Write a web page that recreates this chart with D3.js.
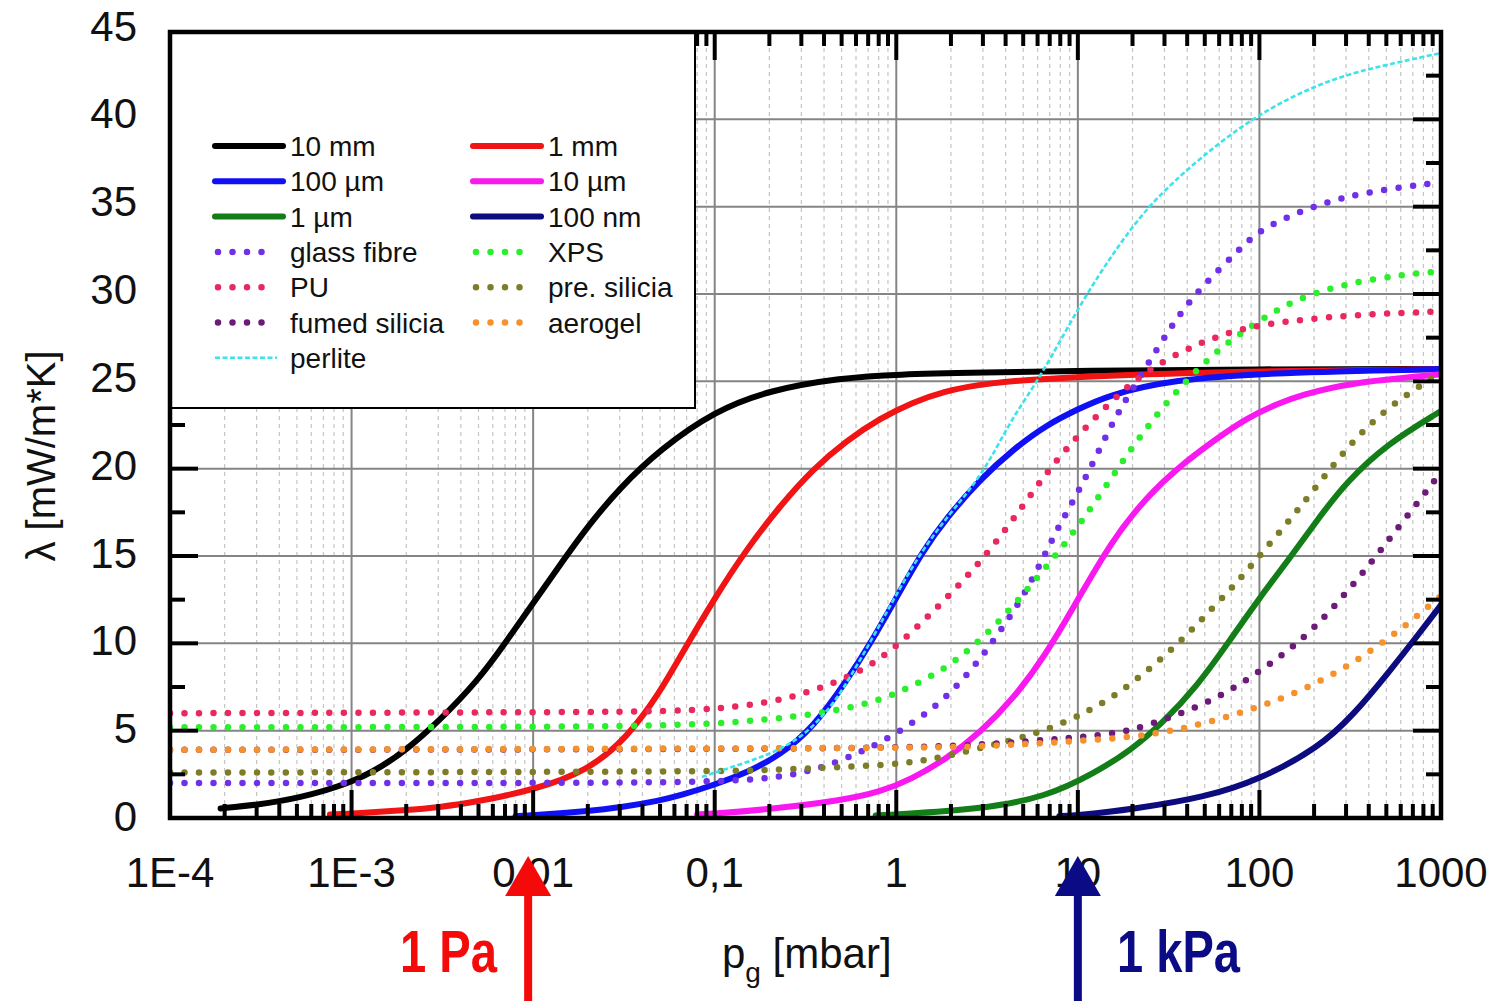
<!DOCTYPE html>
<html>
<head>
<meta charset="utf-8">
<title>Thermal conductivity vs gas pressure</title>
<style>
  body { margin: 0; background: #fff; }
  svg { display: block; font-family: "Liberation Sans", Arial, sans-serif; }
</style>
</head>
<body>
<svg width="1495" height="1001" id="chart"></svg>
<script src="https://d3js.org/d3.v7.min.js"></script>
<script>

// ---- data: [pressure in mbar, lambda in mW/m*K] ----
var xTicks = [1e-4, 1e-3, 0.01, 0.1, 1, 10, 100, 1000];
var xTickLabels = ["1E-4", "1E-3", "0,01", "0,1", "1", "10", "100", "1000"];
var yTicks = [0, 5, 10, 15, 20, 25, 30, 35, 40, 45];

var s10mm = [[1.9e-4,0.55],[3e-4,0.75],[5e-4,1.1],[1e-3,2.0],[1.5e-3,3.0],[2e-3,3.9],[3e-3,5.5],[5e-3,7.9],[7e-3,10.0],[0.01,12.3],[0.015,14.9],[0.02,16.7],[0.03,18.9],[0.05,21.1],[0.1,23.3],[0.2,24.5],[0.5,25.2],[1,25.4],[3,25.5],[10,25.6],[100,25.7],[1000,25.7]];
var s1mm = [[7.6e-4,0.2],[1e-3,0.25],[2e-3,0.45],[3e-3,0.6],[5e-3,0.95],[0.01,1.6],[0.02,2.7],[0.033,4.6],[0.05,7.2],[0.065,9.3],[0.1,12.6],[0.15,15.4],[0.23,17.9],[0.35,20.0],[0.53,21.6],[0.82,22.9],[1.23,23.8],[1.8,24.4],[3,24.9],[10,25.3],[100,25.6],[1000,25.7]];
var s100um = [[8e-3,0.1],[0.01,0.15],[0.02,0.4],[0.03,0.6],[0.05,1.0],[0.065,1.3],[0.1,1.9],[0.15,2.6],[0.23,3.6],[0.35,5.2],[0.53,7.8],[0.75,10.3],[1,12.6],[1.4,15.3],[1.9,17.2],[2.9,19.4],[4.4,21.1],[6.7,22.5],[10,23.4],[14.6,24.2],[33,25.1],[120,25.5],[1000,25.7]];
var s10um = [[0.08,0.2],[0.1,0.25],[0.2,0.5],[0.5,1.0],[0.82,1.5],[1.2,2.2],[1.9,3.4],[2.9,4.9],[4.4,6.8],[6.7,9.4],[9.5,12.1],[15.4,15.9],[24,18.4],[36,20.1],[56,21.6],[85,22.9],[131,23.8],[170,24.2],[300,24.9],[1000,25.4]];
var s1um = [[0.77,0.15],[1,0.2],[2.9,0.5],[6.7,1.2],[12.5,2.6],[19.7,3.9],[29,5.4],[45,7.5],[68,10.1],[100,12.6],[150,15.0],[220,17.4],[300,19.2],[500,21.4],[1000,23.3]];
var s100nm = [[7.9,0.1],[10,0.15],[20,0.5],[51,1.2],[100,2.2],[211,4.0],[330,5.9],[530,8.5],[750,10.5],[1000,12.2]];
var sGlassFibre = [[1e-4,2.0],[0.01,2.0],[0.1,2.05],[0.23,2.3],[0.4,2.9],[0.58,3.6],[0.82,4.3],[1.3,5.6],[1.9,6.9],[2.8,8.9],[3.4,10.1],[5.3,13.0],[7.6,16.5],[10.3,18.8],[15.4,22.6],[19,24.2],[27.5,26.9],[36.5,28.9],[51,30.7],[77,32.5],[100,33.7],[200,35.1],[410,35.9],[1000,36.4]];
var sXPS = [[1e-4,5.2],[0.01,5.2],[0.065,5.3],[0.14,5.5],[0.28,5.8],[0.5,6.2],[0.82,6.75],[1.2,7.5],[1.9,8.6],[2.7,9.9],[3.9,11.5],[6.4,14.1],[10.3,16.8],[17.5,20.4],[27,23.1],[38.5,24.9],[56,26.6],[80,27.8],[120,29.0],[170,29.8],[300,30.6],[600,31.1],[1000,31.3]];
var sPU = [[1e-4,6.0],[0.01,6.05],[0.065,6.1],[0.11,6.3],[0.2,6.6],[0.33,7.2],[0.5,7.9],[0.82,9.0],[1.5,11.5],[2.9,14.6],[4.4,17.1],[5.5,18.5],[7,20.0],[10,21.9],[15,23.8],[23,25.5],[37,26.7],[53,27.4],[74,27.9],[108,28.3],[300,28.8],[1000,29.0]];
var sPreSilicia = [[1e-4,2.6],[0.1,2.65],[0.195,2.75],[0.87,3.0],[1.5,3.3],[2.9,4.0],[6.2,4.85],[10.9,6.0],[17.5,7.2],[35.5,9.9],[56,12.1],[77,13.6],[98,14.9],[163,17.6],[300,21.2],[500,23.5],[1000,25.5]];
var sFumedSilicia = [[1e-4,3.9],[1,3.95],[3,4.2],[10,4.6],[17.5,4.9],[24,5.3],[40,6.1],[66,7.15],[107,8.6],[163,10.0],[245,11.8],[390,14.3],[600,16.8],[1000,19.8]];
var sAerogel = [[1e-4,3.9],[0.87,4.0],[2.6,4.06],[6.7,4.3],[20.7,4.6],[42,5.2],[85,6.1],[165,7.2],[324,8.8],[513,10.3],[693,11.3],[918,12.4],[1000,12.7]];
var sPerlite = [[0.085,2.35],[0.1,2.6],[0.2,3.6],[0.3,4.6],[0.4,5.9],[0.5,7.2],[0.75,10.4],[1,12.8],[1.4,15.4],[2,17.5],[2.55,18.8],[3.3,20.5],[4.4,23.0],[6.2,25.2],[10.4,29.5],[16,32.5],[25,35.2],[47,37.8],[100,40.4],[250,42.4],[600,43.3],[1000,43.8]];

var seriesNames = ["10 mm", "1 mm", "100 µm", "10 µm", "1 µm", "100 nm", "glass fibre", "XPS", "PU", "pre. silicia", "fumed silicia", "aerogel", "perlite"];
var seriesData = [s10mm, s1mm, s100um, s10um, s1um, s100nm, sGlassFibre, sXPS, sPU, sPreSilicia, sFumedSilicia, sAerogel, sPerlite];
var seriesColors = ["#000000", "#f01414", "#1010f5", "#fa18f0", "#137d17", "#0c0c7e", "#7030e8", "#2cef2c", "#e8285e", "#7d7d28", "#6c1c78", "#f5922e", "#3de3ea"];
var seriesStyle = ["solid", "solid", "solid", "solid", "solid", "solid", "dot", "dot", "dot", "dot", "dot", "dot", "dash"];

// ---- layout ----
var svg = d3.select("#chart");
var pLeft = 170, pRight = 1441, pTop = 32, pBottom = 818;

var x = d3.scaleLog().domain([1e-4, 1000]).range([pLeft, pRight]);
var y = d3.scaleLinear().domain([0, 45]).range([pBottom, pTop]);

svg.append("defs").append("clipPath").attr("id", "plotclip")
  .append("rect").attr("x", pLeft).attr("y", pTop).attr("width", pRight - pLeft).attr("height", pBottom - pTop);

// minor tick / grid positions
var xMinor = [];
xTicks.slice(0, -1).forEach(function(d) {
  for (var k = 2; k <= 9; k++) xMinor.push(d * k);
});
var yMinor = d3.range(2.5, 45, 5);

// grid
var grid = svg.append("g");
grid.selectAll(".gminor").data(xMinor).enter().append("line")
  .attr("x1", function(d) { return x(d); }).attr("x2", function(d) { return x(d); })
  .attr("y1", pTop).attr("y2", pBottom)
  .attr("stroke", "#c4c4c4").attr("stroke-width", 1.2).attr("stroke-dasharray", "4,4");
grid.selectAll(".gmajx").data(xTicks.slice(1, -1)).enter().append("line")
  .attr("x1", function(d) { return x(d); }).attr("x2", function(d) { return x(d); })
  .attr("y1", pTop).attr("y2", pBottom)
  .attr("stroke", "#858585").attr("stroke-width", 2);
grid.selectAll(".gmajy").data(yTicks.slice(1, -1)).enter().append("line")
  .attr("y1", function(d) { return y(d); }).attr("y2", function(d) { return y(d); })
  .attr("x1", pLeft).attr("x2", pRight)
  .attr("stroke", "#858585").attr("stroke-width", 2);

// curves
var line = d3.line()
  .x(function(d) { return x(d[0]); })
  .y(function(d) { return y(d[1]); })
  .curve(d3.curveBasis);

function styleLine(sel, style) {
  if (style == "solid") {
    sel.attr("stroke-width", 6).attr("stroke-linecap", "round");
  } else if (style == "dot") {
    sel.attr("stroke-width", 6.5).attr("stroke-linecap", "round").attr("stroke-dasharray", "0,14.5");
  } else {
    sel.attr("stroke-width", 2.6).attr("stroke-dasharray", "5,2.5");
  }
  return sel;
}

var curves = svg.append("g").attr("clip-path", "url(#plotclip)");
seriesData.forEach(function(data, i) {
  var p = curves.append("path")
    .datum(data)
    .attr("d", line)
    .attr("fill", "none")
    .attr("stroke", seriesColors[i]);
  styleLine(p, seriesStyle[i]);
});

// ticks (inward, on all four sides)
var ticks = svg.append("g").attr("stroke", "#000").attr("stroke-width", 4);
function xTickLines(vals, len) {
  ticks.selectAll(null).data(vals).enter().append("line")
    .attr("x1", function(d) { return x(d); }).attr("x2", function(d) { return x(d); })
    .attr("y1", pBottom).attr("y2", pBottom - len);
  ticks.selectAll(null).data(vals).enter().append("line")
    .attr("x1", function(d) { return x(d); }).attr("x2", function(d) { return x(d); })
    .attr("y1", pTop).attr("y2", pTop + len);
}
function yTickLines(vals, len) {
  ticks.selectAll(null).data(vals).enter().append("line")
    .attr("y1", function(d) { return y(d); }).attr("y2", function(d) { return y(d); })
    .attr("x1", pLeft).attr("x2", pLeft + len);
  ticks.selectAll(null).data(vals).enter().append("line")
    .attr("y1", function(d) { return y(d); }).attr("y2", function(d) { return y(d); })
    .attr("x1", pRight).attr("x2", pRight - len);
}
xTickLines(xTicks, 28);
xTickLines(xMinor, 14);
yTickLines(yTicks, 28);
yTickLines(yMinor, 15);

// legend box
var legend = svg.append("g");
legend.append("rect")
  .attr("x", pLeft).attr("y", pTop).attr("width", 525).attr("height", 376)
  .attr("fill", "#fff").attr("stroke", "#000").attr("stroke-width", 2);

var colX = [215, 473], rowY0 = 146, rowStep = 35.3;
seriesNames.forEach(function(name, i) {
  var cx = colX[i % 2], cy = rowY0 + Math.floor(i / 2) * rowStep;
  var x1 = cx, x2 = cx + 68;
  if (seriesStyle[i] == "dot") { x1 = cx + 3; x2 = cx + 61; }
  if (seriesStyle[i] == "dash") { x2 = cx + 62; }
  var l = legend.append("line")
    .attr("x1", x1).attr("x2", x2).attr("y1", cy).attr("y2", cy)
    .attr("stroke", seriesColors[i]);
  styleLine(l, seriesStyle[i]);
  legend.append("text")
    .attr("x", cx + 75).attr("y", cy + 10)
    .attr("font-size", 28).attr("fill", "#111")
    .text(name);
});

// frame
svg.append("rect")
  .attr("x", pLeft).attr("y", pTop).attr("width", pRight - pLeft).attr("height", pBottom - pTop)
  .attr("fill", "none").attr("stroke", "#000").attr("stroke-width", 4.5);

// tick labels
svg.append("g").selectAll("text").data(xTicks).enter().append("text")
  .attr("x", function(d) { return x(d); }).attr("y", 887)
  .attr("text-anchor", "middle").attr("font-size", 42).attr("fill", "#111")
  .text(function(d, i) { return xTickLabels[i]; });
svg.append("g").selectAll("text").data(yTicks).enter().append("text")
  .attr("x", 137).attr("y", function(d) { return y(d) + 13 - d / 10; })
  .attr("text-anchor", "end").attr("font-size", 42).attr("fill", "#111")
  .text(function(d) { return d; });

// axis titles
var xt = svg.append("text").attr("x", 722).attr("y", 968).attr("font-size", 42).attr("fill", "#111");
xt.append("tspan").text("p");
xt.append("tspan").attr("font-size", 28).attr("dy", 14).text("g");
xt.append("tspan").attr("dy", -14).text(" [mbar]");

svg.append("text")
  .attr("transform", "translate(55,456) rotate(-90)")
  .attr("text-anchor", "middle").attr("font-size", 40).attr("fill", "#111")
  .text("λ [mW/m*K]");

// pressure markers: 1 Pa = 0.01 mbar, 1 kPa = 10 mbar
function arrow(px, color) {
  var g = svg.append("g").attr("fill", color);
  g.append("rect").attr("x", px - 4).attr("y", 893).attr("width", 8).attr("height", 110);
  g.append("path").attr("d", "M" + (px - 23) + ",896 L" + px + ",856 L" + (px + 23) + ",896 Z");
}
arrow(x(0.01) - 5, "#f50a0a");
arrow(x(10), "#0b0b85");

svg.append("text")
  .attr("x", 400).attr("y", 972).attr("font-size", 60).attr("font-weight", "bold")
  .attr("textLength", 97).attr("lengthAdjust", "spacingAndGlyphs")
  .attr("fill", "#f50a0a").text("1 Pa");
svg.append("text")
  .attr("x", 1117).attr("y", 972).attr("font-size", 60).attr("font-weight", "bold")
  .attr("textLength", 123).attr("lengthAdjust", "spacingAndGlyphs")
  .attr("fill", "#0b0b85").text("1 kPa");

</script>
</body>
</html>
